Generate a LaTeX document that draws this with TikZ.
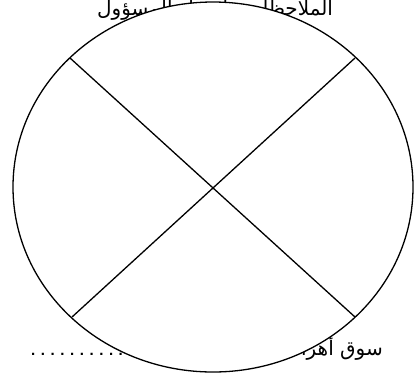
\documentclass[tikz,border=0pt]{standalone}
\usepackage{fontspec}
\usetikzlibrary{shapes.geometric}
\setmainfont{Liberation Sans}
\newfontfamily\arabicfont[Script=Arabic]{DejaVu Sans}
\TeXXeTstate=1
\begin{document}
\begin{tikzpicture}[x=1pt,y=-1pt,
  txt/.style={inner sep=0pt,font=\fontsize{20}{23}\selectfont},
  shape line/.style={line width=1.3pt,black}]
\useasboundingbox (0,0) rectangle (414,376);
\node[txt,anchor=base] (title) at (215,15) {\arabicfont\beginR الملاحظات وإمضاء المسؤول\endR};
\node[txt,anchor=base east] (place) at (383,355) {\arabicfont\beginR سوق أهراس في\endR};
\node[txt,anchor=base west,font=\fontsize{15}{17}\selectfont\bfseries] (dots) at (31,355) {. . . . . . . . . . . . . . . . . . . . . .};
\node[shape line,draw,fill=white,ellipse,minimum width=400pt,minimum height=370pt,inner sep=0pt] (oval) at (213,187) {};
\coordinate (a) at (70,58);
\coordinate (b) at (355,58);
\coordinate (c) at (72,317);
\coordinate (d) at (355,317);
\draw[shape line] (a) -- (d);
\draw[shape line] (b) -- (c);
\end{tikzpicture}
\end{document}
